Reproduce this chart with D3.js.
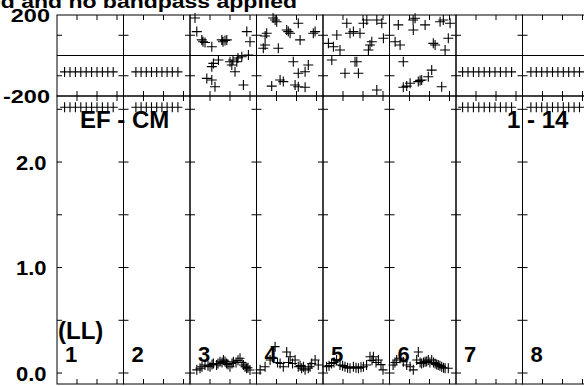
<!DOCTYPE html>
<html><head><meta charset="utf-8">
<script src="https://cdn.jsdelivr.net/npm/d3@7"></script>
<style>
html,body{margin:0;padding:0;background:#fff;}
svg{display:block;}
text{font-family:"Liberation Sans",Arial,Helvetica,sans-serif;font-weight:bold;fill:#000;}
</style></head>
<body>
<svg id="chart" width="584" height="386"></svg>
<script>
// ---------- data ----------
const titleText = "Data calibrated and no bandpass applied";
const antennas = ["1","2","3","4","5","6","7","8"];
const baselineLabel = "EF - CM";
const rangeLabel = "1 - 14";
const polLabel = "(LL)";
const timeTicks = [1, 2, 3];
const phaseTicks = [-200, -100, 0, 100, 200];
const phaseTickLabels = [200, -200];
const ampTicks = [0, 0.5, 1, 1.5, 2, 2.5];
const ampTickLabels = [0, 1, 2];

// flagged antennas: constant phase / amplitude rows (time in hours)
const flaggedTimes1 = [0.38, 0.65, 0.92, 1.19, 1.46, 1.73, 2.0, 2.27, 2.54, 2.81];
const flaggedTimes2 = [0.62, 0.88, 1.14, 1.40, 1.66, 1.92, 2.18, 2.44, 2.72];
const flaggedTimes7 = [0.33, 0.60, 0.87, 1.14, 1.41, 1.68, 1.95, 2.22, 2.50, 2.78];
const flaggedTimes8 = [0.42, 0.69, 0.96, 1.23, 1.50, 1.77, 2.04, 2.31, 2.58, 2.85];
const flaggedPhase = -81;
const flaggedAmp = 2.52;

// phase points [time, phase] per antenna 3-6
const phase3 = [[0.25,185],[0.34,118],[0.59,77],[0.65,68],[0.75,64],[1.09,43],[1.59,77],[1.65,68],[1.75,74],[1.84,77],[2.84,118],[3.0,68],
  [1.42,-22],[1.17,-39],[1.09,-55],[2.0,-31],[2.15,-22],[2.4,-12],[2.59,-6],[2.34,-31],[2.92,2],[2.09,-47],[2.25,-80],[0.84,-113],[1.09,-121],[1.25,-154],[2.67,-146]];
const phase4 = [[0.83,185],[0.93,175],[1.01,167],[2.09,159],[0.51,110],[0.43,96],[1.51,126],[1.59,118],[1.68,110],[2.93,118],[2.84,110],[2.18,77],[0.43,52],[0.34,36],[1.09,36],
  [1.84,-31],[2.59,-47],[2.43,-80],[2.09,-88],[1.18,-121],[1.34,-129],[0.76,-151],[1.93,-146],[2.09,-154],[2.43,-157]];
const phase5 = [[1.19,159],[2.02,159],[2.19,175],[2.69,175],[2.94,159],[1.52,118],[1.35,110],[1.85,110],[0.69,101],[0.27,60],[0.52,43],[0.85,27],[2.44,68],[2.35,52],[2.27,27],[3.02,85],
  [0.44,-22],[1.6,-31],[1.69,-31],[1.1,-88],[1.77,-88],[2.69,-170]];
const phase6 = [[0.44,151],[1.18,175],[1.28,184],[1.78,151],[1.19,126],[2.53,167],[2.69,175],[3.03,159],[0.28,68],[0.53,52],[2.19,60],[2.28,52],[2.94,85],[2.78,27],
  [0.69,-31],[2.11,-72],[1.94,-105],[1.61,-121],[1.44,-129],[1.53,-123],[1.03,-137],[0.86,-151],[2.61,-154],[0.69,-157]];

// amplitude points [time, amp] per antenna 3-6
const amp3 = [[0.34,0.03],[0.5,0.045],[0.6,0.06],[0.75,0.076],[0.9,0.07],[1.0,0.06],[1.1,0.08],[1.17,0.09],[1.33,0.076],[1.4,0.09],[1.5,0.107],[1.6,0.1],[1.67,0.123],[1.75,0.11],[1.83,0.09],[1.9,0.08],[2.0,0.06],[2.1,0.09],[2.17,0.107],[2.3,0.1],[2.4,0.12],[2.5,0.14],[2.6,0.1],[2.67,0.076],[2.75,0.06],[2.83,0.045],[2.9,0.05],[3.0,0.028]];
const amp4 = [[0.18,0.03],[0.43,0.06],[0.68,0.123],[0.84,0.14],[0.93,0.25],[1.05,0.1],[1.18,0.09],[1.34,0.06],[1.51,0.2],[1.6,0.1],[1.68,0.155],[1.8,0.09],[1.93,0.123],[2.09,0.06],[2.18,0.07],[2.26,0.045],[2.35,0.06],[2.43,0.03],[2.59,0.045],[2.68,0.06],[2.76,0.09],[2.93,0.123],[3.09,0.076]];
const amp5 = [[0.18,0.06],[0.3,0.07],[0.43,0.09],[0.55,0.1],[0.68,0.123],[0.85,0.076],[0.98,0.07],[1.1,0.06],[1.23,0.05],[1.35,0.045],[1.52,0.06],[1.65,0.05],[1.77,0.045],[1.9,0.055],[2.02,0.06],[2.18,0.076],[2.35,0.155],[2.45,0.12],[2.52,0.155],[2.65,0.1],[2.77,0.123],[2.9,0.08],[3.0,0.03]];
const amp6 = [[0.18,0.076],[0.27,0.1],[0.36,0.123],[0.53,0.14],[0.69,0.107],[0.86,0.076],[1.03,0.06],[1.19,0.03],[1.36,0.123],[1.44,0.2],[1.53,0.1],[1.61,0.09],[1.7,0.1],[1.78,0.107],[1.86,0.11],[1.94,0.123],[2.02,0.1],[2.11,0.123],[2.2,0.1],[2.28,0.09],[2.36,0.08],[2.44,0.076],[2.52,0.07],[2.61,0.06],[2.7,0.05],[2.78,0.045],[2.94,0.045]];

// ---------- layout ----------
const W = 584, H = 386;
const plotLeft = 57, colW = 66.5;
const phTop = 15, phBot = 96, amTop = 96, amBot = 384;
const tickLen = 5;

const svg = d3.select("#chart");

const xCol = d3.scaleBand().domain(antennas).range([plotLeft, plotLeft + colW * antennas.length]).paddingInner(0).paddingOuter(0);
const xTime = d3.scaleLinear().domain([0, 3.325]).range([0, colW]);
const yPh = d3.scaleLinear().domain([-200, 200]).range([phBot, phTop]);
const yAm = d3.scaleLinear().domain([-0.104, 2.626]).range([amBot, amTop]);

const series = {
  "1": {t: flaggedTimes1, flag: true},
  "2": {t: flaggedTimes2, flag: true},
  "3": {ph: phase3, am: amp3},
  "4": {ph: phase4, am: amp4},
  "5": {ph: phase5, am: amp5},
  "6": {ph: phase6, am: amp6},
  "7": {t: flaggedTimes7, flag: true},
  "8": {t: flaggedTimes8, flag: true}
};

function cross(g, pts, xf, yf, hw, hh) {
  const p = d3.path();
  pts.forEach(d => {
    const x = xf(d), y = yf(d);
    p.moveTo(x - hw, y); p.lineTo(x + hw, y);
    p.moveTo(x, y - hh); p.lineTo(x, y + hh);
  });
  g.append("path").attr("d", p.toString()).attr("stroke", "#000").attr("stroke-width", 1.1).attr("fill", "none");
}

const frame = svg.append("g").attr("stroke", "#000").attr("stroke-width", 1).attr("fill", "none");

antennas.forEach(a => {
  const x0 = xCol(a), x1 = x0 + xCol.bandwidth();
  const g = svg.append("g");
  [[phTop, phBot], [amTop, amBot]].forEach(([t, b]) => {
    frame.append("rect").attr("x", x0).attr("y", t).attr("width", x1 - x0).attr("height", b - t);
  });
  frame.append("line").attr("x1", x0).attr("x2", x1).attr("y1", yPh(0)).attr("y2", yPh(0));
  timeTicks.forEach(tt => {
    const x = x0 + xTime(tt);
    if (x >= x1) return;
    frame.append("line").attr("x1", x).attr("x2", x).attr("y1", phTop).attr("y2", phTop + tickLen);
    frame.append("line").attr("x1", x).attr("x2", x).attr("y1", phBot).attr("y2", phBot - tickLen);
    frame.append("line").attr("x1", x).attr("x2", x).attr("y1", amTop).attr("y2", amTop + tickLen);
    frame.append("line").attr("x1", x).attr("x2", x).attr("y1", amBot).attr("y2", amBot - tickLen);
  });
  phaseTicks.filter(v => Math.abs(v) < 200 && v !== 0).forEach(v => {
    frame.append("line").attr("x1", x0).attr("x2", x0 + tickLen).attr("y1", yPh(v)).attr("y2", yPh(v));
    frame.append("line").attr("x1", x1).attr("x2", x1 - tickLen).attr("y1", yPh(v)).attr("y2", yPh(v));
  });
  ampTicks.forEach(v => {
    frame.append("line").attr("x1", x0).attr("x2", x0 + tickLen).attr("y1", yAm(v)).attr("y2", yAm(v));
    frame.append("line").attr("x1", x1).attr("x2", x1 - tickLen).attr("y1", yAm(v)).attr("y2", yAm(v));
  });

  const s = series[a];
  if (s.flag) {
    cross(g, s.t, d => x0 + xTime(d), d => yPh(flaggedPhase), 4.5, 5);
    cross(g, s.t, d => x0 + xTime(d), d => yAm(flaggedAmp), 4.5, 5);
  } else {
    cross(g, s.ph, d => x0 + xTime(d[0]), d => yPh(d[1]), 5, 5);
    cross(g, s.am, d => x0 + xTime(d[0]), d => yAm(d[1]), 4.5, 5);
  }
  svg.append("text").attr("x", x0 + 8).attr("y", 362).attr("font-size", 22).text(a);
});

phaseTickLabels.forEach(v => {
  svg.append("text").attr("text-anchor", "end")
    .attr("transform", `translate(50,${yPh(v) + 6.5}) scale(1,0.78)`)
    .attr("font-size", 23.5).text(v);
});
ampTickLabels.forEach(v => {
  svg.append("text").attr("text-anchor", "end")
    .attr("transform", `translate(46.5,${yAm(v) + 7.5}) scale(1,0.93)`)
    .attr("font-size", 22).text(d3.format(".1f")(v));
});

svg.append("text").attr("text-anchor", "end")
  .attr("transform", "translate(297,7.5) scale(1,0.8)")
  .attr("font-size", 23).text(titleText);

svg.append("text").attr("x", 80).attr("y", 128).attr("font-size", 24).text(baselineLabel);
svg.append("text").attr("x", 507).attr("y", 128).attr("font-size", 24).text(rangeLabel);
svg.append("text").attr("x", 58).attr("y", 339).attr("font-size", 24).text(polLabel);
</script>
</body></html>
